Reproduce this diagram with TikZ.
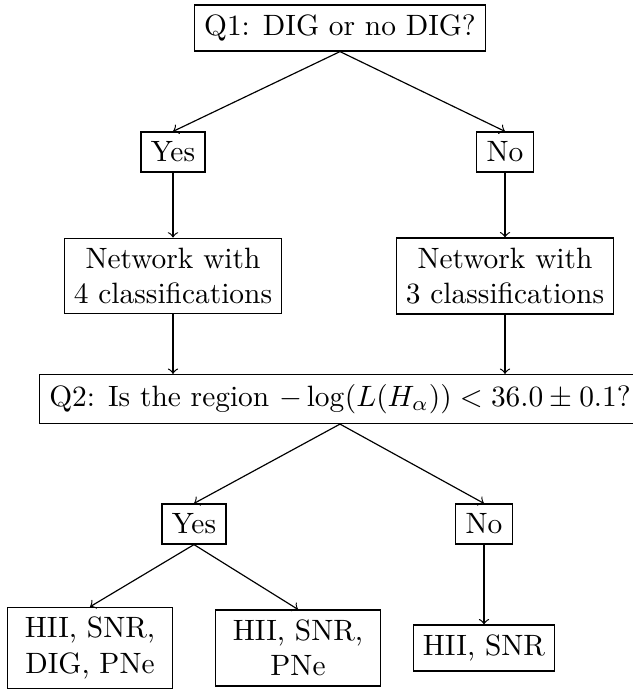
\documentclass[tikz,border=0pt]{standalone}
\usetikzlibrary{arrows}
\begin{document}
\begin{tikzpicture}[x=0.34pt,y=-0.34pt]
	\tikzstyle{every node}=[draw, align=center, inner sep=3.33pt]
	\tikzstyle{leaf}=[minimum width=56pt]
	\clip (0,0) rectangle (633,689);
	\draw (340,28) node (q1) {Q1: DIG or no DIG?};
	\draw (173,152) node (yes1) {Yes};
	\draw (505,152) node (no1) {No};
	\draw (173,276) node (net4) {Network with\\4 classifications};
	\draw (505,276) node (net3) {Network with\\3 classifications};
	\draw (340,399) node (q2) {Q2: Is the region $-\log(L(H_\alpha)) < 36.0 \pm 0.1$?};
	\draw (194,524) node (yes2) {Yes};
	\draw (484,524) node (no2) {No};
	\draw (90,648) node (all4) [leaf] {HII, SNR,\\DIG, PNe};
	\draw (298,648) node (all3) [leaf] {HII, SNR,\\PNe};
	\draw (484,648) node (all2) {HII, SNR};
	\draw[->] (q1.south) -- (yes1.north);
	\draw[->] (q1.south) -- (no1.north);
	\draw[->] (yes1) -- (net4);
	\draw[->] (no1) -- (net3);
	\draw[->] (net4.south) -- (net4.south |- q2.north);
	\draw[->] (net3.south) -- (net3.south |- q2.north);
	\draw[->] (q2.south) -- (yes2.north);
	\draw[->] (q2.south) -- (no2.north);
	\draw[->] (yes2.south) -- (all4.north);
	\draw[->] (yes2.south) -- (all3.north);
	\draw[->] (no2) -- (all2);
\end{tikzpicture}
\end{document}
